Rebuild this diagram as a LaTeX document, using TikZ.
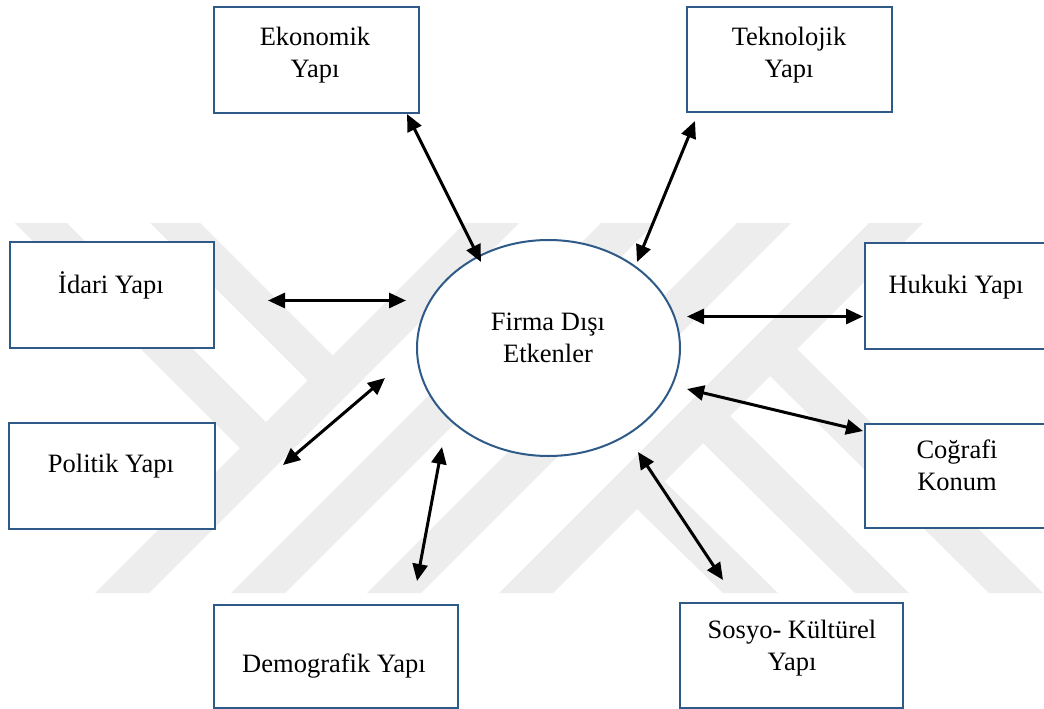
\documentclass[tikz,border=0pt]{standalone}
\usepackage{fontspec}
\setmainfont{Liberation Serif}
\usetikzlibrary{arrows.meta,shapes.geometric}
\definecolor{boxblue}{HTML}{2E5A88}
\definecolor{wm}{HTML}{EDEDED}
\begin{document}
\begin{tikzpicture}[x=1pt,y=-1pt,
  box/.style={draw=boxblue, line width=2.4pt, fill=white, anchor=north west, inner sep=0pt},
  lbl/.style={font=\fontsize{26.5}{32}\selectfont, align=center, inner sep=0pt},
  dbl/.style={line width=3pt, {Triangle[length=17pt,width=15pt]}-{Triangle[length=17pt,width=15pt]}}]
\useasboundingbox (0,0) rectangle (1044,709);
\fill[white] (0,0) rectangle (1044,709);
% watermark
\begin{scope}
\clip (0,223) rectangle (1044,593);
\fill[wm] (465,223) -- (519,223) -- (149,593) -- (95,593) -- cycle;
\fill[wm] (601,223) -- (655,223) -- (285,593) -- (231,593) -- cycle;
\fill[wm] (737,223) -- (791,223) -- (421,593) -- (367,593) -- cycle;
\fill[wm] (869,223) -- (923,223) -- (553,593) -- (499,593) -- cycle;
\fill[wm] (15,223) -- (67,223) -- (267,423) -- (241,449) -- cycle;
\fill[wm] (150,223) -- (200,223) -- (333,356) -- (308,381) -- cycle;
\fill[wm] (636,508) -- (663.5,480.5) -- (778,593) -- (723,593) -- cycle;
\fill[wm] (702,442) -- (729,415) -- (909,593) -- (855,593) -- cycle;
\fill[wm] (769,375) -- (796,348) -- (1043,593) -- (989,593) -- cycle;
\end{scope}
% boxes
\node[box, minimum width=205pt, minimum height=106pt] (eko) at (213,6) {};
\node[box, minimum width=205pt, minimum height=105pt] (tek) at (686,6) {};
\node[box, minimum width=204pt, minimum height=106pt] (idari) at (9,241) {};
\node[box, minimum width=190pt, minimum height=106pt] (huk) at (864,242) {};
\node[box, minimum width=190pt, minimum height=104pt] (cog) at (864,423) {};
\node[box, minimum width=206pt, minimum height=106pt] (pol) at (8,422) {};
\node[box, minimum width=244pt, minimum height=103pt] (dem) at (213,604) {};
\node[box, minimum width=223pt, minimum height=105pt] (sos) at (679,602) {};
\node[draw=boxblue, line width=2pt, fill=white, ellipse, inner sep=0pt,
      minimum width=263pt, minimum height=216pt] (ell) at (548.5,348) {};
% labels
\node[lbl] (ekoT) at (315,55.5) {Ekonomik\\Yapı};
\node[lbl] (tekT) at (789,55.5) {Teknolojik\\Yapı};
\node[lbl] (idariT) at (111,285) {İdari Yapı};
\node[lbl] (hukT) at (956,287) {Hukuki Yapı};
\node[lbl] (cogT) at (957,465) {Coğrafi\\Konum};
\node[lbl] (polT) at (111,466) {Politik Yapı};
\node[lbl] (demT) at (334,666) {Demografik Yapı};
\node[lbl] (sosT) at (792,648) {Sosyo- Kültürel\\Yapı};
\node[lbl] (ellT) at (548,338) {Firma Dışı\\Etkenler};
% arrow end points
\coordinate (e1) at (407,114); \coordinate (e2) at (481,262);
\coordinate (t1) at (695,121); \coordinate (t2) at (637,262);
\coordinate (i1) at (268,300.5); \coordinate (i2) at (406,300.5);
\coordinate (p1) at (385,378); \coordinate (p2) at (283,465);
\coordinate (d1) at (442,447); \coordinate (d2) at (417,581);
\coordinate (h1) at (687,316.5); \coordinate (h2) at (863,316.5);
\coordinate (c1) at (687,389); \coordinate (c2) at (863,431);
\coordinate (s1) at (638,452); \coordinate (s2) at (723,580);
\draw[dbl] (e1) -- (e2);
\draw[dbl] (t1) -- (t2);
\draw[dbl] (i1) -- (i2);
\draw[dbl] (p1) -- (p2);
\draw[dbl] (d1) -- (d2);
\draw[dbl] (h1) -- (h2);
\draw[dbl] (c1) -- (c2);
\draw[dbl] (s1) -- (s2);
\end{tikzpicture}
\end{document}
